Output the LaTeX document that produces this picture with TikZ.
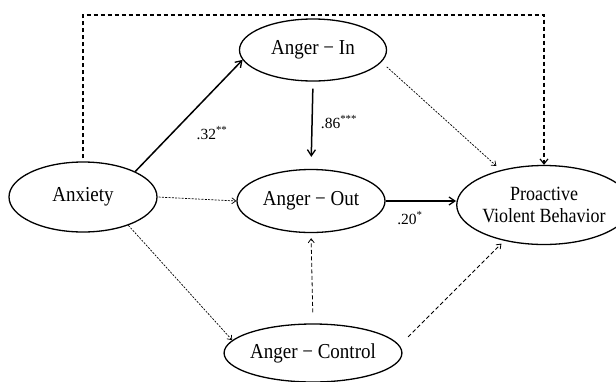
\documentclass[tikz,border=0pt]{standalone}
\usepackage{fontspec}
\usepackage{graphicx}
\setmainfont{Liberation Serif}
\usetikzlibrary{arrows.meta,shapes.geometric}
\newcommand{\talltext}[1]{\scalebox{1}[1.12]{#1}}
\begin{document}
\begin{tikzpicture}[x=1pt,y=-1pt,
  var/.style={draw, ellipse, line width=1.3pt, inner sep=0pt, align=center,
    font=\fontsize{19}{22}\selectfont},
  coef/.style={font=\fontsize{15.5}{17}\selectfont, inner sep=0pt},
  solidarrow/.style={line width=1.5pt, -{Straight Barb[length=6pt,width=8pt,line width=1.3pt]}},
  dotarrow/.style={line width=0.7pt, dash pattern=on 2pt off 1.3pt, -{Straight Barb[length=4pt,width=6pt,line width=0.7pt]}},
  dasharrow/.style={line width=0.8pt, dash pattern=on 4pt off 2.5pt, -{Straight Barb[length=4pt,width=6pt,line width=0.8pt]}},
  bigdash/.style={line width=1.2pt, dash pattern=on 4.5pt off 2.5pt, -{Straight Barb[length=5pt,width=8pt,line width=1.2pt]}}
]
\useasboundingbox (0,0) rectangle (616,381);

\node[var, minimum width=148pt, minimum height=70pt] (anx) at (83,197) {\talltext{Anxiety}};
\node[var, minimum width=147pt, minimum height=62pt] (ain) at (313,50) {\talltext{Anger − In}};
\node[var, minimum width=148pt, minimum height=63pt] (aout) at (311,201) {\talltext{Anger − Out}};
\node[var, minimum width=143pt, minimum height=79pt, font=\fontsize{18}{22}\selectfont] (pvb) at (544,205) {\talltext{Proactive}\\\talltext{Violent Behavior}};
\node[var, minimum width=142pt, minimum height=58pt] (actl) at (313,353) {\talltext{Anger − Control}};

\coordinate (topL) at (84,15);

% solid paths
\draw[solidarrow] (anx.26) -- (ain.188);
\draw[solidarrow, shorten <=7pt, shorten >=12pt] (ain.south) -- (aout.north);
\draw[solidarrow] (aout.east) -- (pvb.west |- aout.east);

% dotted paths
\draw[dotarrow, shorten <=1pt] (anx.east) -- (aout.west);
\draw[dotarrow, shorten <=7pt, shorten >=6pt] (ain.-10) -- (pvb.141);
\draw[dotarrow] (anx.-32) -- (actl.171);

% dashed paths
\draw[dasharrow, shorten <=11pt, shorten >=5pt] (actl.north) -- (aout.south);
\draw[dasharrow, shorten <=12pt, shorten >=4pt] (actl.5) -- (pvb.222);
\draw[bigdash, shorten <=3pt] (anx.north) -- (anx.north |- topL) -| (pvb.north);

% coefficients
\node[coef] (c32) at (212,133) {.32\textsuperscript{**}};
\node[coef] (c86) at (339,122) {.86\textsuperscript{***}};
\node[coef] (c20) at (410,218) {.20\textsuperscript{*}};
\end{tikzpicture}
\end{document}
